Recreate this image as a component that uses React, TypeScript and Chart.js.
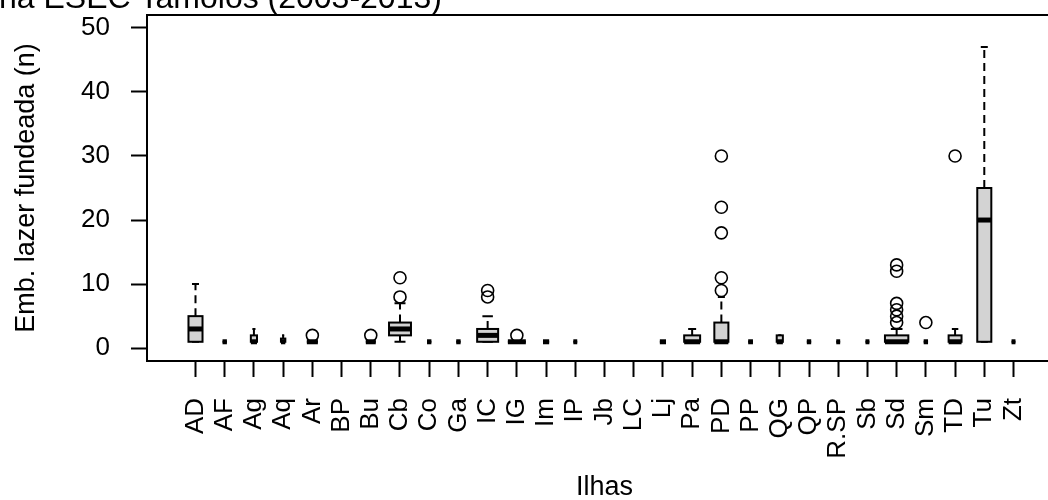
import React, { useEffect, useRef } from "react";
import { Chart, registerables } from "chart.js";

Chart.register(...registerables);

const islands = ["AD", "AF", "Ag", "Aq", "Ar", "BP", "Bu", "Cb", "Co", "Ga", "IC", "IG", "Im", "IP", "Jb", "LC", "Lj", "Pa", "PD", "PP", "QG", "QP", "R.SP", "Sb", "Sd", "Sm", "TD", "Tu", "Zt"];
const counts = [52, 5, 10, 5, 32, 0, 26, 127, 5, 5, 116, 85, 10, 4, 0, 0, 10, 67, 52, 6, 10, 5, 4, 4, 144, 5, 44, 52, 4];
const lowerWhisker = [1, 1, 1, 1, 1, null, 1, 1, 1, 1, 1, 1, 1, 1, null, null, 1, 1, 1, 1, 1, 1, 1, 1, 1, 1, 1, 1, 1];
const q1 = [1, 1, 1, 1, 1, null, 1, 2, 1, 1, 1, 1, 1, 1, null, null, 1, 1, 1, 1, 1, 1, 1, 1, 1, 1, 1, 1, 1];
const medians = [3, 1, 1, 1, 1, null, 1, 3, 1, 1, 2, 1, 1, 1, null, null, 1, 1, 1, 1, 1, 1, 1, 1, 1, 1, 1, 20, 1];
const q3 = [5, 1, 2, 1.5, 1, null, 1, 4, 1, 1, 3, 1, 1, 1, null, null, 1, 2, 4, 1, 2, 1, 1, 1, 2, 1, 2, 25, 1];
const upperWhisker = [10, 1, 3, 2, 1, null, 1, 7, 1, 1, 5, 1, 1, 1, null, null, 1, 3, 8, 1, 2, 1, 1, 1, 3, 1, 3, 47, 1];
const outliers: number[][] = [[], [], [], [], [2], [], [2], [8, 11], [], [], [8, 9], [2], [], [], [], [], [], [], [9, 11, 18, 22, 30], [], [], [], [], [], [4, 5, 6, 7, 12, 13], [4], [30], [], []];
const yTicks = [0, 10, 20, 30, 40, 50];

const titleText = "na ESEC Tamoios (2003-2013)";
const xTitle = "Ilhas";
const yTitle = "Emb. lazer fundeada (n)";

const FONT = "'Liberation Sans', Arial, sans-serif";
const BOX_FILL = "#d3d3d3";

const maxCount = Math.max(...counts);

const boxPlugin = {
  id: "rBoxes",
  beforeDatasetsDraw(chart: any) {
    const { ctx, chartArea, scales } = chart;
    const x = scales.x;
    const y = scales.y;
    ctx.save();
    ctx.beginPath();
    ctx.rect(chartArea.left, chartArea.top, chartArea.right - chartArea.left, chartArea.bottom - chartArea.top);
    ctx.clip();
    ctx.strokeStyle = "#000";
    islands.forEach((_, i) => {
      if (!counts[i] || medians[i] === null) return;
      const pos = i + 1;
      const cx = x.getPixelForValue(pos);
      const half = x.getPixelForValue(pos + 0.4 * Math.sqrt(counts[i] / maxCount)) - cx;
      const yLo = y.getPixelForValue(lowerWhisker[i] as number);
      const yQ1 = y.getPixelForValue(q1[i] as number);
      const yMed = y.getPixelForValue(medians[i] as number);
      const yQ3 = y.getPixelForValue(q3[i] as number);
      const yHi = y.getPixelForValue(upperWhisker[i] as number);
      ctx.lineWidth = 2;
      ctx.lineCap = "butt";
      ctx.setLineDash([8, 5]);
      ctx.beginPath();
      ctx.moveTo(cx, yQ3);
      ctx.lineTo(cx, yHi);
      ctx.moveTo(cx, yQ1);
      ctx.lineTo(cx, yLo);
      ctx.stroke();
      ctx.setLineDash([]);
      ctx.beginPath();
      ctx.moveTo(cx - half / 2, yHi);
      ctx.lineTo(cx + half / 2, yHi);
      ctx.moveTo(cx - half / 2, yLo);
      ctx.lineTo(cx + half / 2, yLo);
      ctx.stroke();
      ctx.fillStyle = BOX_FILL;
      ctx.fillRect(cx - half, yQ3, 2 * half, yQ1 - yQ3);
      ctx.strokeRect(cx - half, yQ3, 2 * half, yQ1 - yQ3);
      ctx.lineWidth = 5;
      ctx.beginPath();
      ctx.moveTo(cx - half, yMed);
      ctx.lineTo(cx + half, yMed);
      ctx.stroke();
    });
    ctx.restore();
  },
  afterDraw(chart: any) {
    const { ctx, chartArea } = chart;
    ctx.save();
    ctx.strokeStyle = "#000";
    ctx.lineWidth = 2;
    ctx.setLineDash([]);
    ctx.strokeRect(chartArea.left, chartArea.top, chartArea.right - chartArea.left, chartArea.bottom - chartArea.top);
    ctx.fillStyle = "#000";
    ctx.font = `32px ${FONT}`;
    ctx.textAlign = "left";
    ctx.textBaseline = "alphabetic";
    ctx.fillText(titleText, -1, 8);
    ctx.restore();
  },
};

const outlierPoints = outliers.flatMap((vals, i) => vals.map((v) => ({ x: i + 1, y: v })));

export default function App() {
  const ref = useRef<HTMLCanvasElement>(null);
  useEffect(() => {
    const chart = new Chart(ref.current as HTMLCanvasElement, {
      type: "scatter",
      data: {
        datasets: [
          {
            data: outlierPoints,
            pointStyle: "circle",
            pointRadius: 6,
            pointBorderWidth: 1.6,
            borderColor: "#000",
            backgroundColor: "rgba(0,0,0,0)",
          },
        ],
      },
      options: {
        animation: false,
        responsive: false,
        events: [],
        layout: { padding: { top: 15, right: 8, bottom: 0, left: 0 } },
        plugins: { legend: { display: false }, tooltip: { enabled: false }, title: { display: false } },
        scales: {
          x: {
            type: "linear",
            min: -0.66,
            max: 30.66,
            afterBuildTicks: (s: any) => {
              s.ticks = islands.map((_, i) => ({ value: i + 1 }));
            },
            afterFit: (s: any) => {
              s.height = 139;
              s.paddingLeft = 0;
              s.paddingRight = 0;
              s.paddingTop = 0;
              s.paddingBottom = 0;
            },
            border: { display: false },
            grid: { drawOnChartArea: false, drawTicks: true, tickLength: 16, tickWidth: 2, tickColor: "#000" },
            ticks: {
              autoSkip: false,
              minRotation: 90,
              maxRotation: 90,
              padding: 21,
              color: "#000",
              font: { family: FONT, size: 26 },
              callback: (v: any) => islands[Math.round(Number(v)) - 1],
            },
            title: { display: true, text: xTitle, color: "#000", font: { family: FONT, size: 27, lineHeight: 1.2 }, padding: { top: 0, bottom: -4 } },
          },
          y: {
            type: "linear",
            min: -2,
            max: 52,
            afterBuildTicks: (s: any) => {
              s.ticks = yTicks.map((v) => ({ value: v }));
            },
            afterFit: (s: any) => {
              s.width = 147;
              s.paddingTop = 0;
              s.paddingBottom = 0;
              s.paddingLeft = 0;
              s.paddingRight = 0;
            },
            border: { display: false },
            grid: { drawOnChartArea: false, drawTicks: true, tickLength: 16, tickWidth: 2, tickColor: "#000" },
            ticks: { padding: 21, color: "#000", font: { family: FONT, size: 26 } },
            title: { display: true, text: yTitle, color: "#000", font: { family: FONT, size: 27, lineHeight: 1.2 }, padding: { top: 10, bottom: 0 } },
          },
        },
      },
      plugins: [boxPlugin],
    } as any);
    return () => chart.destroy();
  }, []);
  return (
    <div style={{ position: "absolute", left: 0, top: 0, width: 1048, height: 500, overflow: "hidden", background: "#fff" }}>
      <div style={{ width: 1070, height: 500 }}>
        <canvas ref={ref} width={1070} height={500} style={{ display: "block", width: 1070, height: 500 }} />
      </div>
    </div>
  );
}
